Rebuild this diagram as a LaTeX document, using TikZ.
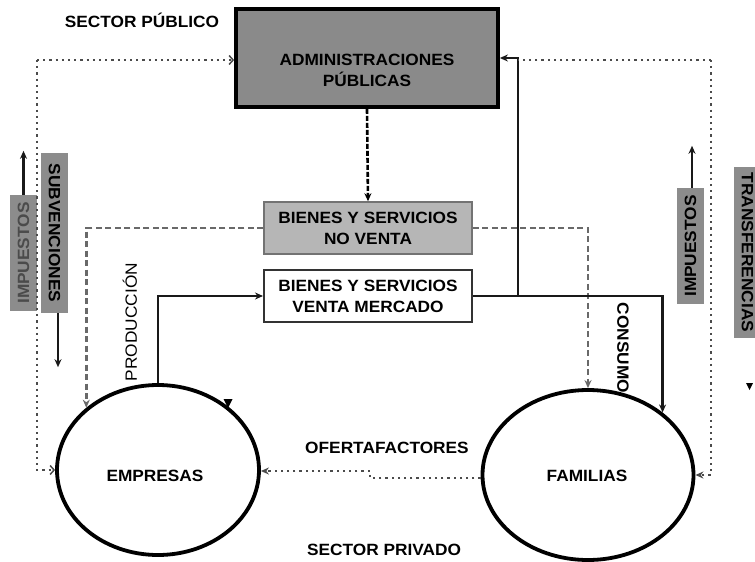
\documentclass[tikz,border=0pt]{standalone}
\usepackage{fontspec}
\setmainfont{Liberation Sans}[FakeStretch=1.06]
\usetikzlibrary{arrows.meta,shapes.geometric}
\definecolor{apgray}{RGB}{138,138,138}
\definecolor{nvgray}{RGB}{182,182,182}
\definecolor{sidegray}{RGB}{140,140,140}
\definecolor{dotcol}{RGB}{75,75,75}
\definecolor{dashcol}{RGB}{105,105,105}
\definecolor{graytext}{RGB}{75,75,75}
\begin{document}
\begin{tikzpicture}[x=1pt,y=-1pt,
  txt/.style={font=\fontsize{16.3}{21}\selectfont\bfseries, align=center, inner sep=0pt},
  rtxt/.style={font=\fontsize{16.3}{21}\selectfont, align=center, inner sep=0pt},
  sidebox/.style={txt, fill=sidegray, minimum height=27pt, draw=none},
  ell/.style={ellipse, draw=black, line width=3.8pt, inner sep=0pt},
  solidc/.style={draw=black!90, line width=2.4pt},
  dotc/.style={draw=dotcol, line width=2.2pt, dash pattern=on 2.2pt off 4pt},
  dashc/.style={draw=dashcol, line width=2.4pt, dash pattern=on 6pt off 3.5pt},
  fa/.style={-{Stealth[length=8pt,width=7pt]}},
  oa/.style={-{Straight Barb[length=4pt,width=9pt,line width=1.5pt]}}
]
\useasboundingbox (0,0) rectangle (755,562);
\fill[white] (0,0) rectangle (755,562);

% titles
\node[txt] (tpub) at (142,20) {SECTOR PÚBLICO};
\node[txt] (tpriv) at (384,550) {SECTOR PRIVADO};

% main boxes
\node[draw=black, line width=3.8pt, fill=apgray, minimum width=262pt, minimum height=98pt, inner sep=0pt] (AP) at (367,58) {};
\node[txt] (APt) at (367,70) {ADMINISTRACIONES\\PÚBLICAS};
\node[txt, draw=black!55, line width=1.5pt, fill=nvgray, minimum width=208pt, minimum height=52pt] (NV) at (368,228) {BIENES Y SERVICIOS\\NO VENTA};
\node[txt, draw=black!80, line width=2pt, fill=white, minimum width=208pt, minimum height=52pt] (VM) at (368,296) {BIENES Y SERVICIOS\\VENTA MERCADO};

% ellipses
\node[ell, minimum width=202pt, minimum height=170pt] (EMP) at (158,470) {};
\node[txt] (EMPt) at (155,476) {EMPRESAS};
\node[ell, minimum width=211pt, minimum height=170pt] (FAM) at (588,475) {};
\node[txt] (FAMt) at (587,476) {FAMILIAS};

% side boxes
\node[sidebox, rotate=90, minimum width=116pt, text=graytext] (IMP1) at (23.5,253) {IMPUESTOS};
\node[sidebox, rotate=-90, minimum width=160pt] (SUB) at (54.5,233) {SUBVENCIONES};
\node[sidebox, rotate=90, minimum width=116pt] (IMP2) at (690.5,246) {IMPUESTOS};
\node[sidebox, rotate=-90, minimum width=171pt] (TRA) at (747.5,252.5) {TRANSFERENCIAS};

% labels
\node[rtxt, rotate=90] (PROD) at (130,322) {PRODUCCIÓN};
\node[txt, rotate=-90] (CONS) at (623,348) {CONSUMO};
\node[txt] (OFT) at (387,448) {OFERTAFACTORES};

% coordinates
\coordinate (cL) at (37,60);
\coordinate (cR) at (711,60);
\coordinate (j1) at (518,296);
\coordinate (st1) at (370,478);
\coordinate (st2) at (370,471);

% dashed flows
\draw[draw=black, line width=2.6pt, dash pattern=on 5pt off 2pt, fa] (AP.south) -- (NV.north);
\draw[dashc, fa] (NV.west) -| (EMP.139.6);
\draw[dashc, fa] (NV.east) -| (FAM.north);

% solid flows
\draw[solidc, fa] (EMP.north) |- (VM.west);
\draw[solidc, fa] (VM.east) -| (FAM.40.8);
\draw[solidc, fa] (j1) |- (AP.east);

% dotted flows
\draw[dotc, oa] (cL) |- (EMP.west);
\draw[dotc, oa] (cL) -- (AP.west |- cL);
\draw[dotc] (cR) -- (j1 |- cR);
\draw[dotc, fa] (cR) |- (FAM.east);
\draw[dotc, fa] (FAM.west |- st1) -- (st1) -- (st2) -- (EMP.east |- st2);

% side arrows
\draw[solidc, fa] (IMP1.east) -- ++(0,-44);
\draw[solidc, fa] ([xshift=3.5pt]SUB.east) -- ++(0,54);
\draw[solidc, fa] ([xshift=1.5pt]IMP2.east) -- ++(0,-42);

% stray arrowheads
\fill[black] (223.5,399) -- (232.5,399) -- (228,408) -- cycle;
\fill[black] (746,383) -- (753,383) -- (749.5,390) -- cycle;
\end{tikzpicture}
\end{document}
